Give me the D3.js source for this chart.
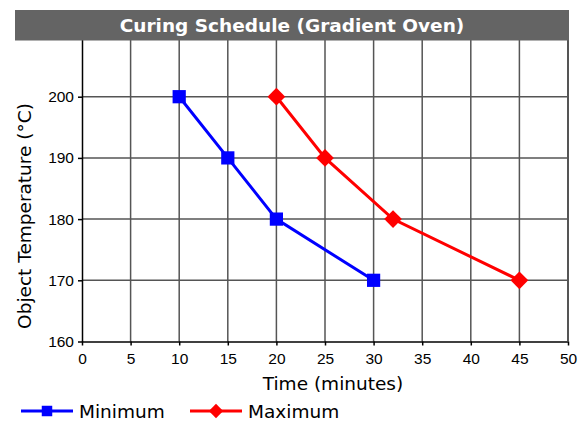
<!DOCTYPE html>
<html>
<head>
<meta charset="utf-8">
<script src="https://cdn.jsdelivr.net/npm/d3@7"></script>
<style>
  body { margin: 0; background: #fff; }
</style>
</head>
<body>
<div id="chart-area"></div>
<script>
// data
var seriesNames = ["Minimum", "Maximum"];
var minTime = [10, 15, 20, 30];
var minTemp = [200, 190, 180, 170];
var maxTime = [20, 25, 32, 45];
var maxTemp = [200, 190, 180, 170];
var xTicks = [0, 5, 10, 15, 20, 25, 30, 35, 40, 45, 50];
var yTicks = [160, 170, 180, 190, 200];

var W = 587, H = 421;
var margin = {left: 82, right: 19, top: 35.5, bottom: 79.5};
var width = W - margin.left - margin.right;
var height = H - margin.top - margin.bottom;

var svg = d3.select("#chart-area").append("svg")
    .attr("width", W)
    .attr("height", H);

var g = svg.append("g")
    .attr("transform", "translate(" + margin.left + "," + margin.top + ")");

var x = d3.scaleLinear().domain([0, 50]).range([0, width]);
var y = d3.scaleLinear().domain([160, 210]).range([height, 0]);

// grid
g.selectAll(".vgrid").data(xTicks.slice(1)).enter().append("line")
    .attr("x1", function(d){ return x(d); })
    .attr("x2", function(d){ return x(d); })
    .attr("y1", 0).attr("y2", height)
    .attr("stroke", "#555").attr("stroke-width", 1.5);

g.selectAll(".hgrid").data([170, 180, 190, 200, 210]).enter().append("line")
    .attr("x1", 0).attr("x2", width)
    .attr("y1", function(d){ return y(d); })
    .attr("y2", function(d){ return y(d); })
    .attr("stroke", "#555").attr("stroke-width", 1.5);

// axes
var xAxis = g.append("g")
    .attr("transform", "translate(0," + height + ")")
    .call(d3.axisBottom(x).tickValues(xTicks).tickSize(4).tickSizeOuter(0));
var yAxis = g.append("g")
    .call(d3.axisLeft(y).tickValues(yTicks).tickSize(4).tickSizeOuter(0));

[xAxis, yAxis].forEach(function(a){
    a.select(".domain").attr("stroke", "#000").attr("stroke-width", 1.5);
    a.selectAll(".tick line").attr("stroke", "#000").attr("stroke-width", 1.5);
    a.selectAll("text")
        .attr("fill", "#000")
        .style("font-family", "Liberation Sans, Arial, sans-serif")
        .style("font-size", "15.5px");
});
xAxis.selectAll("text").attr("dy", "0.71em").attr("y", 11);
yAxis.selectAll("text").attr("x", -8);

// right border
g.append("line")
    .attr("x1", width).attr("x2", width)
    .attr("y1", 0).attr("y2", height)
    .attr("stroke", "#555").attr("stroke-width", 2);

// lines
var line = d3.line()
    .x(function(d){ return x(d[0]); })
    .y(function(d){ return y(d[1]); });

var minData = minTime.map(function(t, i){ return [t, minTemp[i]]; });
var maxData = maxTime.map(function(t, i){ return [t, maxTemp[i]]; });

g.append("path").datum(minData)
    .attr("d", line).attr("fill", "none")
    .attr("stroke", "#0000ff").attr("stroke-width", 3);
g.append("path").datum(maxData)
    .attr("d", line).attr("fill", "none")
    .attr("stroke", "#ff0000").attr("stroke-width", 3);

var sq = d3.symbol().type(d3.symbolSquare).size(175);
var dm = d3.symbol().type(d3.symbolDiamond2).size(200);

g.selectAll(".minpt").data(minData).enter().append("path")
    .attr("d", sq)
    .attr("transform", function(d){ return "translate(" + x(d[0]) + "," + y(d[1]) + ")"; })
    .attr("fill", "#0000ff");
g.selectAll(".maxpt").data(maxData).enter().append("path")
    .attr("d", dm)
    .attr("transform", function(d){ return "translate(" + x(d[0]) + "," + y(d[1]) + ")"; })
    .attr("fill", "#ff0000");

// title bar
svg.append("rect")
    .attr("x", 15).attr("y", 10)
    .attr("width", 554).attr("height", 30.5)
    .attr("fill", "#646464");
svg.append("text")
    .attr("x", 292).attr("y", 32)
    .attr("text-anchor", "middle")
    .attr("fill", "#fff")
    .style("font-family", "DejaVu Sans, Verdana, sans-serif")
    .style("font-weight", "bold")
    .style("font-size", "18.5px")
    .text("Curing Schedule (Gradient Oven)");

// axis labels
svg.append("text")
    .attr("x", 333).attr("y", 390)
    .attr("text-anchor", "middle")
    .style("font-family", "DejaVu Sans, Verdana, sans-serif")
    .style("font-size", "18.5px")
    .text("Time (minutes)");

svg.append("text")
    .attr("transform", "translate(31," + 216 + ") rotate(-90)")
    .attr("text-anchor", "middle")
    .style("font-family", "DejaVu Sans, Verdana, sans-serif")
    .style("font-size", "18.5px")
    .text("Object Temperature (°C)");

// legend
var legendX = [21, 190];
var legendY = 411;
seriesNames.forEach(function(name, i){
    var col = i === 0 ? "#0000ff" : "#ff0000";
    var lg = svg.append("g").attr("transform", "translate(" + legendX[i] + "," + legendY + ")");
    lg.append("line").attr("x1", 0).attr("x2", 52).attr("y1", 0).attr("y2", 0)
        .attr("stroke", col).attr("stroke-width", 3);
    lg.append("path")
        .attr("d", i === 0 ? d3.symbol().type(d3.symbolSquare).size(110)() : d3.symbol().type(d3.symbolDiamond2).size(130)())
        .attr("transform", "translate(26,0)")
        .attr("fill", col);
    lg.append("text")
        .attr("x", 58).attr("y", 7)
        .style("font-family", "DejaVu Sans, Verdana, sans-serif")
        .style("font-size", "18.5px")
        .text(name);
});
</script>
</body>
</html>
